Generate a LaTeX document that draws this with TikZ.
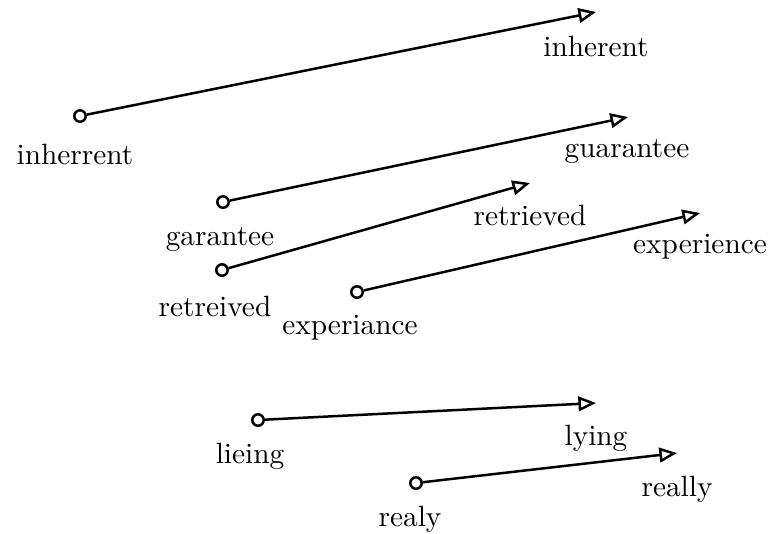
\documentclass[tikz,border=0pt]{standalone}
\usetikzlibrary{arrows.meta}
\begin{document}
\begin{tikzpicture}[x=0.341pt,y=-0.341pt,
  dot/.style={circle,draw,line width=0.85pt,fill=white,inner sep=0pt,minimum size=3.9pt},
  conn/.style={line width=0.85pt,-{Triangle[open,length=6pt,width=5pt,line width=0.85pt]}},
  word/.style={font=\normalsize,inner sep=0pt}]
\useasboundingbox (0,0) rectangle (770,533);
% pairs
\coordinate (e1) at (596,12);
\coordinate (e2) at (628,117);
\coordinate (e3) at (530,183);
\coordinate (e4) at (700,213);
\coordinate (e5) at (596,403);
\coordinate (e6) at (677,453);
\node[dot] (s1) at (80,116) {};
\node[dot] (s2) at (223,202) {};
\node[dot] (s3) at (222,270) {};
\node[dot] (s4) at (357,292) {};
\node[dot] (s5) at (258,420) {};
\node[dot] (s6) at (416,483) {};
\draw[conn] (s1) -- (e1);
\draw[conn] (s2) -- (e2);
\draw[conn] (s3) -- (e3);
\draw[conn] (s4) -- (e4);
\draw[conn] (s5) -- (e5);
\draw[conn] (s6) -- (e6);
% labels
\node[word] (l1) at (75,154) {inherrent};
\node[word] (m1) at (596,46) {inherent};
\node[word] (l2) at (220,239) {garantee};
\node[word] (m2) at (627,151) {guarantee};
\node[word] (l3) at (215,306) {retreived};
\node[word] (m3) at (530,215) {retrieved};
\node[word] (l4) at (350,328) {experiance};
\node[word] (m4) at (700,247) {experience};
\node[word] (l5) at (250,456) {lieing};
\node[word] (m5) at (596,438) {lying};
\node[word] (l6) at (410,519) {realy};
\node[word] (m6) at (677,489) {really};
\end{tikzpicture}
\end{document}
